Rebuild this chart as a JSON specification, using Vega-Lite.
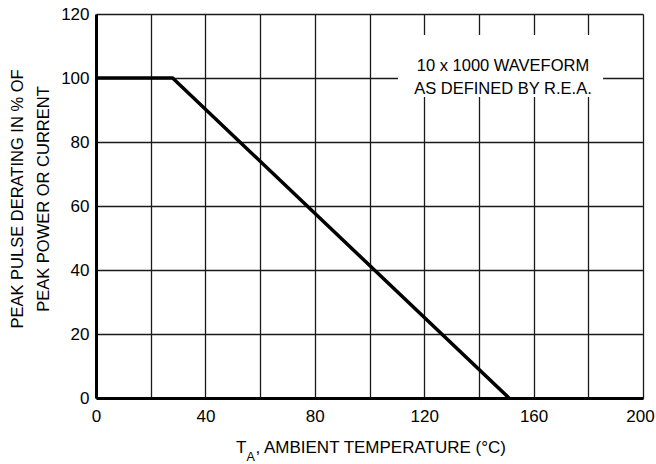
{
  "$schema": "https://vega.github.io/schema/vega-lite/v6.json",
  "width": 547,
  "height": 384,
  "autosize": "none",
  "padding": {"left": 96, "top": 14, "right": 13, "bottom": 66},
  "background": "white",
  "config": {
    "view": {"stroke": null},
    "font": "Liberation Sans",
    "text": {"font": "Liberation Sans"}
  },
  "layer": [
    {
      "data": {"values": [
        {"temp": 0, "pct": 100},
        {"temp": 28, "pct": 100},
        {"temp": 151, "pct": 0}
      ]},
      "mark": {"type": "line", "color": "black", "strokeWidth": 3.5, "strokeCap": "butt", "clip": false},
      "encoding": {
        "x": {
          "field": "temp", "type": "quantitative",
          "scale": {"domain": [0, 200], "nice": false, "zero": false},
          "axis": {
            "values": [0, 20, 40, 60, 80, 100, 120, 140, 160, 180, 200],
            "labelExpr": "datum.value % 40 === 0 ? datum.label : ''",
            "labelOffset": {"condition": {"test": "datum.value === 200", "value": -3}, "value": 0},
            "title": null,
            "grid": true, "gridColor": "#1a1a1a", "gridWidth": 1.3, "gridOpacity": 1,
            "domain": true, "domainColor": "black", "domainWidth": 3,
            "ticks": false, "labelPadding": 10,
            "labelFontSize": 17, "labelColor": "black", "labelFlush": false,
            "labelFont": "Liberation Sans"
          }
        },
        "y": {
          "field": "pct", "type": "quantitative",
          "scale": {"domain": [0, 120], "nice": false, "zero": false},
          "axis": {
            "values": [0, 10, 20, 30, 40, 50, 60, 70, 80, 90, 100, 110, 120],
            "labelExpr": "datum.value % 20 === 0 ? datum.label : ''",
            "title": ["PEAK PULSE DERATING IN % OF", "PEAK POWER OR CURRENT"],
            "titleFontSize": 16.5, "titleFontWeight": "normal", "titleColor": "black",
            "titleLineHeight": 26,
            "titleX": -87, "titleY": 184.5, "titleAngle": -90,
            "titleAlign": "center", "titleBaseline": "top",
            "titleFont": "Liberation Sans",
            "grid": true, "gridColor": "#1a1a1a", "gridWidth": 1.3, "gridOpacity": 1,
            "domain": true, "domainColor": "black", "domainWidth": 3,
            "ticks": false, "labelPadding": 7,
            "labelFontSize": 17, "labelColor": "black", "labelFlush": false,
            "labelBaseline": "middle",
            "labelFont": "Liberation Sans"
          }
        }
      }
    },
    {
      "data": {"values": [{"note": "box"}]},
      "mark": {"type": "rect", "fill": "white", "stroke": null},
      "encoding": {
        "x": {"datum": 110.4, "type": "quantitative"},
        "x2": {"datum": 185.4},
        "y": {"datum": 113.4, "type": "quantitative"},
        "y2": {"datum": 94.1}
      }
    },
    {
      "data": {"values": [{"note": "box"}]},
      "mark": {
        "type": "text",
        "text": ["10 x 1000 WAVEFORM", "AS DEFINED BY R.E.A."],
        "fontSize": 16.5, "lineHeight": 23, "align": "center", "baseline": "middle", "color": "black"
      },
      "encoding": {
        "x": {"datum": 148.8, "type": "quantitative"},
        "y": {"datum": 103.6, "type": "quantitative"}
      }
    },
    {
      "data": {"values": [{"part": "T"}]},
      "mark": {"type": "text", "fontSize": 17, "align": "right", "baseline": "alphabetic", "color": "black", "clip": false},
      "encoding": {
        "x": {"datum": 55.0, "type": "quantitative"},
        "y": {"datum": -17.2, "type": "quantitative"},
        "text": {"field": "part"}
      }
    },
    {
      "data": {"values": [{"part": "A"}]},
      "mark": {"type": "text", "fontSize": 12.5, "align": "left", "baseline": "alphabetic", "color": "black", "clip": false},
      "encoding": {
        "x": {"datum": 55.0, "type": "quantitative"},
        "y": {"datum": -19.8, "type": "quantitative"},
        "text": {"field": "part"}
      }
    },
    {
      "data": {"values": [{"part": ", AMBIENT TEMPERATURE (°C)"}]},
      "mark": {"type": "text", "fontSize": 17, "align": "left", "baseline": "alphabetic", "color": "black", "clip": false},
      "encoding": {
        "x": {"datum": 58.3, "type": "quantitative"},
        "y": {"datum": -17.2, "type": "quantitative"},
        "text": {"field": "part"}
      }
    }
  ]
}
